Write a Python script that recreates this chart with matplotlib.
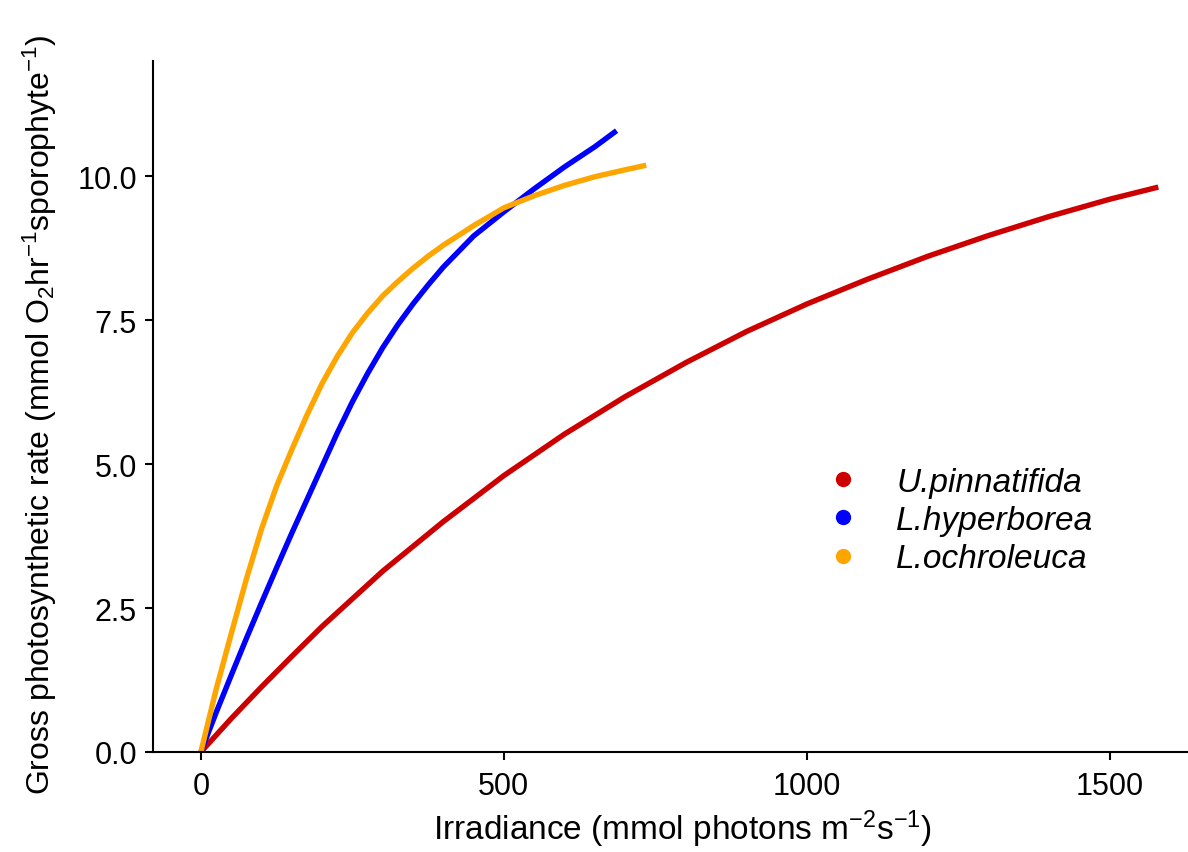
import matplotlib
matplotlib.use("Agg")
import matplotlib.pyplot as plt
from matplotlib.lines import Line2D

plt.rcParams['font.family'] = ['Liberation Sans', 'DejaVu Sans']
plt.rcParams['mathtext.fontset'] = 'custom'
plt.rcParams['mathtext.rm'] = 'Liberation Sans'
plt.rcParams['mathtext.it'] = 'Liberation Sans:italic'
plt.rcParams['mathtext.bf'] = 'Liberation Sans:bold'

# Data
species = ["U.pinnatifida", "L.hyperborea", "L.ochroleuca"]
colors = ["#CC0000", "#0000FF", "#FFA500"]

u_pin_x = [0, 50, 100, 150, 200, 300, 400, 500, 600, 700, 800, 900, 1000, 1100, 1200, 1300, 1400, 1500, 1580]
u_pin_y = [0, 0.58, 1.13, 1.66, 2.18, 3.14, 4.00, 4.80, 5.52, 6.17, 6.76, 7.30, 7.78, 8.21, 8.61, 8.97, 9.30, 9.60, 9.81]

l_hyp_x = [0, 25, 50, 75, 100, 125, 150, 175, 200, 225, 250, 275, 300, 325, 350, 375, 400,
           450, 500, 550, 600, 650, 686]
l_hyp_y = [0, 0.68, 1.33, 1.97, 2.59, 3.20, 3.80, 4.38, 4.96, 5.54, 6.08, 6.57, 7.02, 7.42, 7.78, 8.11, 8.42,
           8.96, 9.38, 9.78, 10.16, 10.51, 10.79]

l_och_x = [0, 25, 50, 75, 100, 125, 150, 175, 200, 225, 250, 275, 300, 325, 350, 375, 400,
           450, 500, 550, 600, 650, 700, 735]
l_och_y = [0, 1.08, 2.05, 3.00, 3.87, 4.62, 5.25, 5.85, 6.40, 6.87, 7.28, 7.62, 7.92, 8.17, 8.40, 8.61, 8.80,
           9.14, 9.45, 9.66, 9.84, 9.99, 10.11, 10.19]

x_ticks = [0, 500, 1000, 1500]
y_ticks = [0.0, 2.5, 5.0, 7.5, 10.0]

W, H = 1188, 853
fig = plt.figure(figsize=(W / 100, H / 100), dpi=100)
ax = fig.add_axes([153 / W, (H - 753) / H, (W - 153) / W, (753 - 62) / H])

series = [(u_pin_x, u_pin_y), (l_hyp_x, l_hyp_y), (l_och_x, l_och_y)]
for (xs, ys), c in zip(series, colors):
    ax.plot(xs, ys, color=c, lw=3.9, solid_capstyle='butt', solid_joinstyle='round')

ax.set_xlim(-79, 1629)
ax.set_ylim(0, 12)
ax.set_xticks(x_ticks)
ax.set_xticklabels([str(v) for v in x_ticks])
ax.set_yticks(y_ticks)
ax.set_yticklabels([f"{v:.1f}" for v in y_ticks])

for side in ['top', 'right']:
    ax.spines[side].set_visible(False)
for side in ['left', 'bottom']:
    ax.spines[side].set_linewidth(1.5)
    ax.spines[side].set_color('black')
ax.tick_params(axis='both', direction='out', length=6, width=1.5, colors='black', labelsize=22)
ax.tick_params(axis='x', pad=8)
ax.tick_params(axis='y', pad=5.5)

ax.set_xlabel(r"Irradiance (mmol photons m$^{-2}$s$^{-1}$)", fontsize=24, va='baseline')
ax.set_ylabel(r"Gross photosynthetic rate (mmol O$_2$hr$^{-1}$sporophyte$^{-1}$)", fontsize=23,
              va='baseline')
ax.xaxis.set_label_coords((683 - 153) / (W - 153), -(840 - 753) / (753 - 62))
ax.yaxis.set_label_coords((50 - 153) / (W - 153), 0.489)

handles = [Line2D([], [], marker='o', linestyle='none', color=c, markersize=10) for c in colors]
leg = ax.legend(handles, species, loc='center left', bbox_to_anchor=(826.3 / W, (H - 521.5) / H),
                bbox_transform=fig.transFigure, frameon=False, borderpad=0, borderaxespad=0,
                handlelength=1.0, handletextpad=1.1, labelspacing=0.22,
                prop={'size': 24, 'style': 'italic'})

fig.savefig("out.png", dpi=100)
